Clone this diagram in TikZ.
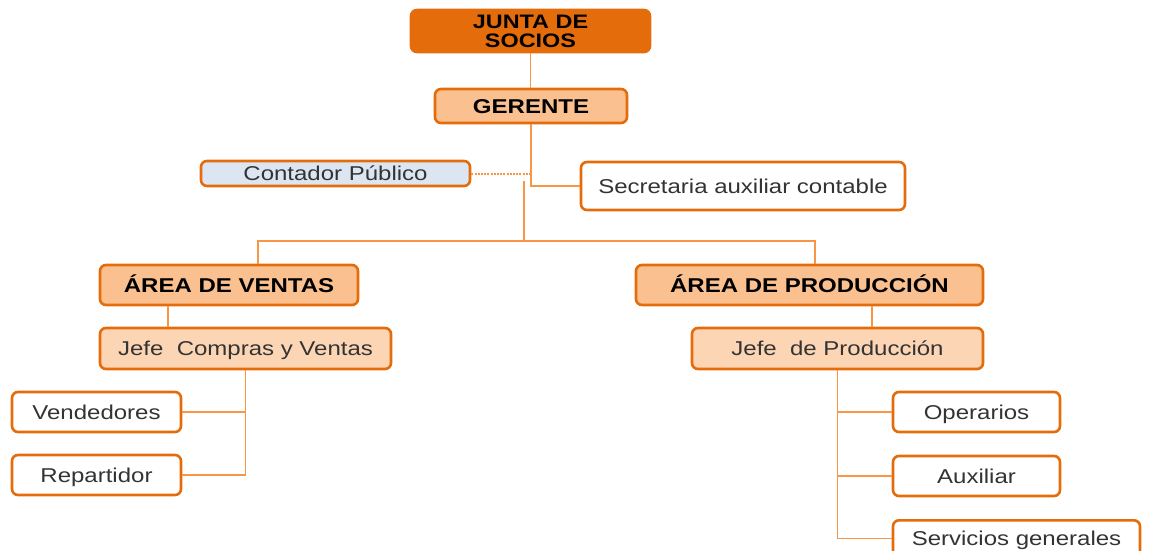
\documentclass[tikz,border=0pt]{standalone}
\usepackage{fontspec}
\setmainfont[FakeStretch=1.2]{Liberation Sans}
\definecolor{bor}{HTML}{E46C0A}
\definecolor{lin}{HTML}{F79646}
\definecolor{fgdark}{HTML}{E46C0A}
\definecolor{fgmid}{HTML}{FAC090}
\definecolor{fglight}{HTML}{FCD5B5}
\definecolor{fblue}{HTML}{DCE6F2}
\definecolor{txt}{HTML}{333333}
\begin{document}
\begin{tikzpicture}[x=1pt,y=-1pt,
  box/.style={draw=bor, line width=2.6pt, rounded corners=6pt, inner sep=0pt, text=txt,
    text height=14.5pt, text depth=0pt,
    font=\fontsize{20}{21}\selectfont},
  title/.style={box, fill=fgmid, text=black, font=\fontsize{20}{21}\selectfont\bfseries},
  conn/.style={draw=lin, line width=1.3pt}]
\useasboundingbox (0,0) rectangle (1150,550);
\node[box, fill=fgdark, text=black, align=center, minimum width=239pt, minimum height=42pt,
  text height=, text depth=,
  font=\fontsize{19.5}{19}\selectfont\bfseries] (junta) at (530.5,31) {JUNTA DE\\SOCIOS};
\node[title, minimum width=192pt, minimum height=34pt] (gerente) at (531,106) {GERENTE};
\node[box, fill=fblue, minimum width=269pt, minimum height=25pt] (contador) at (335.5,173.5) {Contador Público};
\node[box, fill=white, minimum width=324pt, minimum height=48pt] (secret) at (743,186) {Secretaria auxiliar contable};
\node[title, minimum width=258pt, minimum height=40pt] (aventas) at (229,285) {ÁREA DE VENTAS};
\node[title, minimum width=347pt, minimum height=40pt] (aprod) at (809.5,285) {ÁREA DE PRODUCCIÓN};
\node[box, fill=fglight, minimum width=291pt, minimum height=41pt] (jcv) at (245.5,348.5) {Jefe\ \ Compras y Ventas};
\node[box, fill=fglight, minimum width=291pt, minimum height=41pt] (jprod) at (837.5,348.5) {Jefe\ \ de Producción};
\node[box, fill=white, minimum width=169pt, minimum height=40pt] (vend) at (96.5,412) {Vendedores};
\node[box, fill=white, minimum width=169pt, minimum height=40pt] (rep) at (96.5,475) {Repartidor};
\node[box, fill=white, minimum width=167pt, minimum height=40pt] (oper) at (976.5,412) {Operarios};
\node[box, fill=white, minimum width=167pt, minimum height=40pt] (aux) at (976.5,476) {Auxiliar};
\node[box, fill=white, minimum width=247pt, minimum height=36pt, anchor=north] (serv) at (1016.5,519) {Servicios generales};
% connectors
\coordinate (b0) at (524,181);
\coordinate (b1) at (524,241);
\coordinate (av) at ([xshift=29pt]aventas.north);
\coordinate (ap) at ([xshift=5.5pt]aprod.north);
\coordinate (av2) at ([xshift=-61pt]aventas.south);
\coordinate (ap2) at ([xshift=62.5pt]aprod.south);
\draw[conn] (junta.south) -- (junta.south |- gerente.north);
\draw[conn] (gerente.south) |- (secret.west);
\draw[conn, line width=2pt, dash pattern=on 2pt off 1.2pt] (contador.east) -- (gerente.south |- contador.east);
\draw[conn] (b0) -- (b1);
\draw[conn] (av) |- (b1) -| (ap);
\draw[conn] (av2) -- (av2 |- jcv.north);
\draw[conn] (ap2) -- (ap2 |- jprod.north);
\draw[conn] (jcv.south) |- (rep.east);
\draw[conn] (jcv.south |- vend.east) -- (vend.east);
\draw[conn] (jprod.south) |- (serv.west);
\draw[conn] (jprod.south |- oper.west) -- (oper.west);
\draw[conn] (jprod.south |- aux.west) -- (aux.west);
\end{tikzpicture}
\end{document}
